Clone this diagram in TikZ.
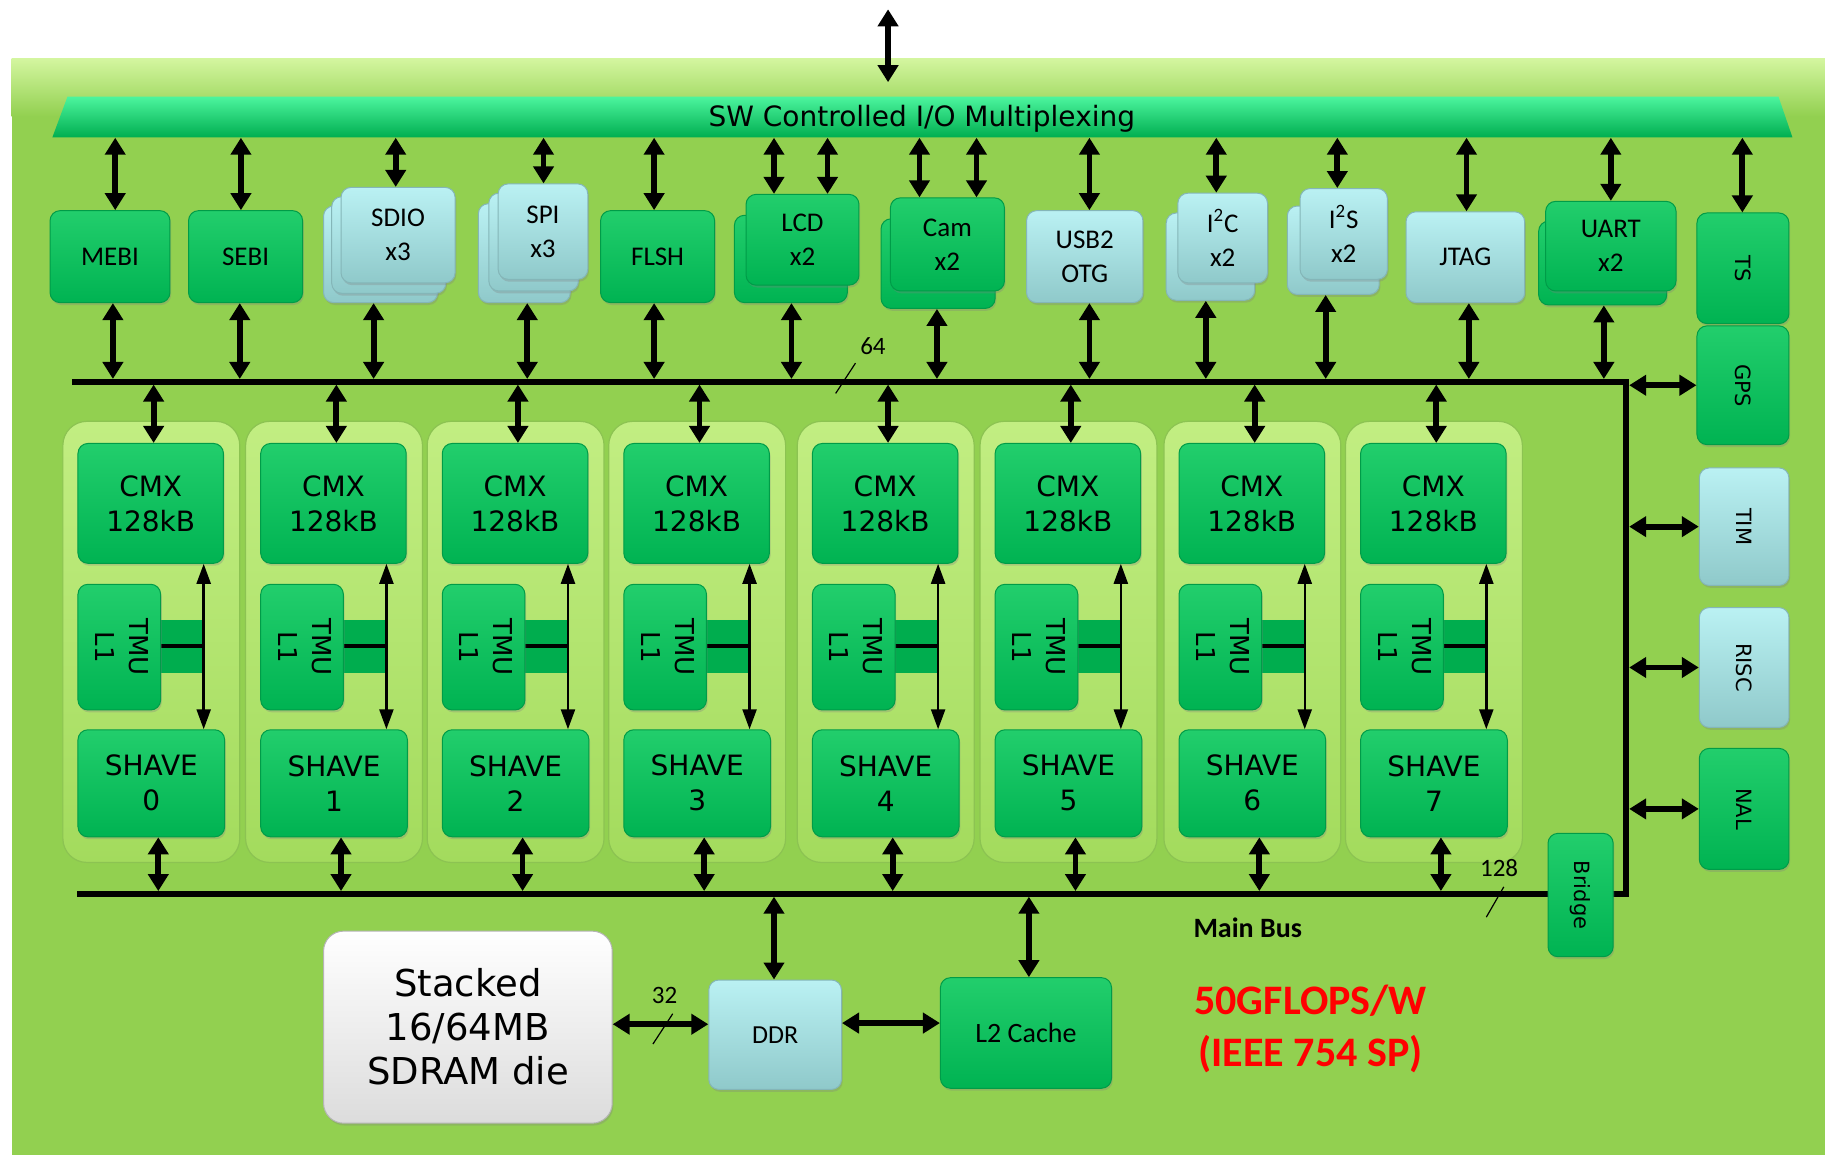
\documentclass[tikz,border=0pt]{standalone}
\usepackage{fontspec}
\setmainfont{Carlito}
\newfontfamily\dv{DejaVu Sans}
\usetikzlibrary{arrows.meta,fit,shadows}
\definecolor{board}{HTML}{92D050}
\definecolor{boardhi}{HTML}{D4F6A0}
\definecolor{gtop}{HTML}{22CE6C}
\definecolor{gbot}{HTML}{00B352}
\definecolor{gedge}{HTML}{009C48}
\definecolor{btop}{HTML}{BAF1F3}
\definecolor{bbot}{HTML}{8FC9CA}
\definecolor{bedge}{HTML}{84B6B8}
\definecolor{ctop}{HTML}{C2EE82}
\definecolor{cbot}{HTML}{A3DB5D}
\definecolor{cedge}{HTML}{8CC352}
\definecolor{bartop}{HTML}{4CF59E}
\definecolor{barbot}{HTML}{00AE50}
\definecolor{tmubar}{HTML}{00AD4E}
\definecolor{wbot}{HTML}{DCDCDC}
\definecolor{wedge}{HTML}{B5B5B5}
\definecolor{redtxt}{HTML}{FF0000}
\newcommand\rotlbl[1]{\rotatebox{-90}{#1}}
% style, name, corner1, corner2, text style, text
\newcommand\blk[6]{%
  \node[#1, fit={(#3) (#4)}] (#2) {};
  \node[#5, align=center, inner sep=0pt] (#2-t) at (#2.center) {#6};}
\tikzset{
  blkbox/.style={rounded corners=5pt, line width=0.5pt, inner sep=0pt,
     drop shadow={opacity=0.3, shadow xshift=0.6pt, shadow yshift=-1.2pt}},
  grn/.style={blkbox, top color=gtop, bottom color=gbot, draw=gedge},
  blu/.style={blkbox, top color=btop, bottom color=bbot, draw=bedge},
  wht/.style={blkbox, rounded corners=10pt, top color=white, bottom color=wbot, draw=wedge},
  cont/.style={rounded corners=12pt, inner sep=0pt, top color=ctop, bottom color=cbot, draw=cedge, line width=0.6pt},
  pf/.style={font=\fontsize{13.5}{17}\selectfont},
  cf/.style={font=\dv\fontsize{14}{17.5}\selectfont},
  rf/.style={font=\dv\fontsize{10.5}{12}\selectfont},
  arr/.style={line width=2.9pt, {Triangle[width=10pt,length=8.5pt]}-{Triangle[width=10pt,length=8.5pt]}},
  thinarr/.style={line width=1.2pt, {Triangle[width=7pt,length=10pt]}-{Triangle[width=7pt,length=10pt]}},
  bus/.style={line width=3.2pt, line join=miter},
  slash/.style={line width=0.6pt},
  num/.style={font=\fontsize{12.5}{14}\selectfont},
}
\begin{document}
\begin{tikzpicture}[x=0.58195pt,y=-0.58195pt]
\useasboundingbox (0,0) rectangle (1568,992);
\fill[white] (0,0) rectangle (1568,992);
\fill[board] (10,50) rectangle (1568,992);
\shade[top color=boardhi,bottom color=board] (10,50) rectangle (1568,100);
% I/O bar
\shade[top color=bartop,bottom color=barbot] (58,83) -- (1528,83) -- (1540,118) -- (45,118) -- cycle;
\node[fit={(45,83) (1540,118)}, inner sep=0pt] (bar) {};
\node[font=\dv\fontsize{14}{16}\selectfont, inner sep=0pt] (bar-t) at (792,102) {SW Controlled I/O Multiplexing};
\coordinate (ext) at (763,8);
\draw[arr, shorten >=7pt] (ext) -- (763,0 |- bar.north);
% buses
\coordinate (pbl) at (62,328);
\coordinate (pbr) at (1397,328);
\coordinate (mbr) at (1397,768);
\coordinate (mbl) at (66,768);
\draw[bus] (pbl) -- (pbr) -- (mbr) -- (mbl);
% peripherals
\blk{grn}{mebi}{43,181}{146,260}{pf}{MEBI}
\blk{grn}{sebi}{162,181}{260,260}{pf}{SEBI}
\blk{blu}{sdioc}{278,177}{376,260}{pf}{}
\blk{blu}{sdiob}{285,169}{383,252}{pf}{}
\blk{blu}{sdio}{293,161}{391,243}{pf}{SDIO\\x3}
\blk{blu}{spic}{411,175}{490,260}{pf}{}
\blk{blu}{spib}{420,166}{497,250}{pf}{}
\blk{blu}{spi}{428,158}{505,240}{pf}{SPI\\x3}
\blk{grn}{flsh}{516,181}{614,260}{pf}{FLSH}
\blk{grn}{lcdb}{631,185}{728,260}{pf}{}
\blk{grn}{lcd}{641,167}{738,245}{pf}{LCD\\x2}
\blk{grn}{camb}{757,188}{855,265}{pf}{}
\blk{grn}{cam}{765,170}{863,250}{pf}{Cam\\x2}
\blk{blu}{usb}{882,181}{982,260}{pf}{USB2\\OTG}
\blk{blu}{itcb}{1002,183}{1078,258}{pf}{}
\blk{blu}{itc}{1012,166}{1089,243}{pf}{I\textsuperscript{2}C\\x2}
\blk{blu}{itsb}{1106,177}{1185,253}{pf}{}
\blk{blu}{its}{1117,162}{1192,240}{pf}{I\textsuperscript{2}S\\x2}
\blk{blu}{jtag}{1208,182}{1310,260}{pf}{JTAG}
\blk{grn}{uartb}{1322,190}{1432,262}{pf}{}
\blk{grn}{uart}{1328,173}{1440,250}{pf}{UART\\x2}
\blk{grn}{ts}{1458,183}{1537,278}{rf}{\rotlbl{TS}}
\blk{grn}{gps}{1458,280}{1537,382}{rf}{\rotlbl{GPS}}
\blk{blu}{tim}{1460,402}{1537,503}{rf}{\rotlbl{TIM}}
\blk{blu}{risc}{1460,522}{1537,625}{rf}{\rotlbl{RISC}}
\blk{grn}{nal}{1460,643}{1537,747}{rf}{\rotlbl{NAL}}
% arrows bar -> peripherals
\foreach \xx/\nd in {99/mebi,207/sebi,340/sdio,467/spi,562/flsh,665/lcd,711/lcd,790/cam,839/cam,936/usb,1045/itc,1149/its,1260/jtag,1384/uart,1497/ts}
  \draw[arr] (\xx,0 |- bar.south) -- (\xx,0 |- \nd.north);
% arrows peripherals -> bus
\foreach \xx/\nd in {97/mebi,206/sebi,321/sdioc,453/spic,562/flsh,680/lcdb,805/camb,936/usb,1036/itcb,1139/itsb,1262/jtag,1378/uartb}
  \draw[arr, shorten >=1.4pt] (\xx,0 |- \nd.south) -- (\xx,0 |- pbl);
% arrows bus -> right column
\foreach \nd in {gps,tim,risc,nal}
  \draw[arr, shorten <=1.6pt] (pbr |- \nd.west) -- (\nd.west);
% clusters
\foreach \x [count=\i from 0] in {67,224,380,536,698,855,1013,1169} {
  \node[cont, fit={(\x-13,362) (\x+139,741)}] (cl\i) {};
  \blk{grn}{cmx\i}{\x,381}{\x+125,484}{cf}{CMX\\128kB}
  \fill[tmubar] (\x+65,533) rectangle (\x+108,578);
  \draw[line width=2.4pt] (\x+68,555) -- (\x+108,555);
  \blk{grn}{tmu\i}{\x,502}{\x+71,610}{font=\dv\fontsize{13}{17}\selectfont}{\rotlbl{\begin{tabular}{@{}c@{}}TMU\\L1\end{tabular}}}
  \blk{grn}{shave\i}{\x,627}{\x+126,719}{cf}{SHAVE\\\i}
  \draw[thinarr] (\x+108,0 |- cmx\i.south) -- (\x+108,0 |- shave\i.north);
  \draw[arr, shorten <=1.4pt] (\x+65,0 |- pbl) -- (\x+65,0 |- cmx\i.north);
  \draw[arr, shorten >=1.4pt] (\x+69,0 |- shave\i.south) -- (\x+69,0 |- mbl);
}
% bridge
\blk{grn}{bridge}{1330,716}{1386,822}{rf}{\rotlbl{Bridge}}
% memory
\blk{wht}{sdram}{278,800}{526,965}{font=\dv\fontsize{18.5}{22}\selectfont}{Stacked\\16/64MB\\SDRAM die}
\blk{blu}{ddr}{609,842}{723,936}{font=\fontsize{13}{15}\selectfont}{DDR}
\blk{grn}{l2}{808,840}{955,935}{font=\fontsize{14}{16}\selectfont}{L2 Cache}
\draw[arr, shorten <=1.4pt] (665,0 |- mbl) -- (665,0 |- ddr.north);
\draw[arr, shorten <=1.4pt] (884,0 |- mbl) -- (884,0 |- l2.north);
\draw[arr] (sdram.east |- 0,880) -- (ddr.west |- 0,880);
\draw[arr] (ddr.east |- 0,879) -- (l2.west |- 0,879);
% widths
\node[num] (w64) at (750,297) {64};
\draw[slash] (718,338) -- (735,312);
\node[num] (w128) at (1288,746) {128};
\draw[slash] (1277,788) -- (1292,762);
\node[num] (w32) at (571,855) {32};
\draw[slash] (561,897) -- (578,871);
\node[font=\bfseries\fontsize{14}{16}\selectfont] (mainbus) at (1072,797) {Main Bus};
\node[align=center, text=redtxt, font=\bfseries\fontsize{21}{26}\selectfont] (perf) at (1126,884) {50GFLOPS/W\\(IEEE 754 SP)};
\end{tikzpicture}
\end{document}
